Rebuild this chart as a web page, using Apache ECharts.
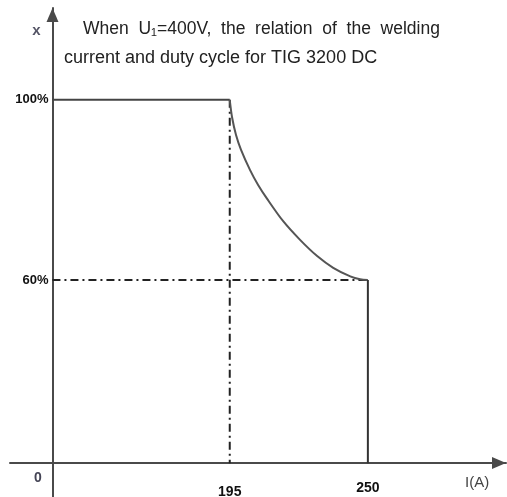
<!DOCTYPE html>
<html>
<head>
<meta charset="utf-8">
<script src="https://cdn.jsdelivr.net/npm/echarts@6/dist/echarts.min.js"></script>
<style>
  html, body { margin: 0; padding: 0; background: #fff; }
  #chart { width: 507px; height: 497px; }
</style>
</head>
<body>
<div id="chart"></div>
<script>
// Rated points: welding current (A) and duty cycle (%)
const ratedCurrent = [195, 250];
const ratedDuty = [100, 60];

// Derating curve between the two rated points
const curveCurrent = [195, 195.9, 197.5, 199.5, 203.1, 206.3, 209.9, 216.2, 223.0, 229.8, 236.2, 243.0, 246.9, 250];
const curveDuty    = [100, 96.2, 92.2, 88.9, 84.4, 81.1, 78.0, 73.1, 68.9, 65.3, 62.7, 60.8, 60.15, 60];

// Axis tick labels
const currentTicks = [195, 250];
const dutyTicks = [60, 100];

// Where the two axes cross (schematic origin)
const originCurrent = 124.4;
const originDuty = 19.3;

const xMin = 107.5, xMax = 305;
const yMin = 11.8, yMax = 120.4;

const pair = (xs, ys) => xs.map((x, i) => [x, ys[i]]);

const font = '"Liberation Sans", Arial, sans-serif';
const axisColor = '#4a4a4a';
const dashDot = [8, 4, 2, 4];

const chart = echarts.init(document.getElementById('chart'), null, { renderer: 'canvas' });

chart.setOption({
  animation: false,
  backgroundColor: '#fff',
  title: [
    {
      text: 'When  U\u2081=400V,  the  relation  of  the  welding',
      left: 83, top: 20, padding: 0,
      textStyle: { fontFamily: font, fontSize: 17.5, fontWeight: 'normal', color: '#222' }
    },
    {
      text: 'current and duty cycle for TIG 3200 DC',
      left: 64, top: 49, padding: 0,
      textStyle: { fontFamily: font, fontSize: 18, fontWeight: 'normal', color: '#222' }
    }
  ],
  grid: { left: 10, right: 1, top: 8, bottom: 0, containLabel: false, outerBoundsMode: 'none' },
  xAxis: {
    type: 'value',
    min: xMin, max: xMax,
    position: 'bottom',
    offset: -34,
    name: 'I(A)',
    nameLocation: 'end',
    nameGap: -41,
    nameTextStyle: { fontFamily: font, fontSize: 15, color: '#444', verticalAlign: 'top', padding: [12, 0, 0, 0] },
    axisLine: { show: true, onZero: false, symbol: ['none', 'triangle'], symbolSize: [12, 14], symbolOffset: [0, -7],
      lineStyle: { color: axisColor, width: 2 } },
    axisTick: { show: false },
    splitLine: { show: false },
    axisLabel: {
      customValues: currentTicks,
      margin: 18,
      formatter: v => (v === currentTicks[0] ? '{lo|' + v + '}' : '{hi|' + v + '}'),
      rich: {
        lo: { fontFamily: font, fontSize: 14, fontWeight: 'bold', color: '#111', padding: [4, 0, 0, 0] },
        hi: { fontFamily: font, fontSize: 14, fontWeight: 'bold', color: '#111' }
      }
    }
  },
  yAxis: {
    type: 'value',
    min: yMin, max: yMax,
    position: 'left',
    offset: -42.5,
    name: 'x',
    nameLocation: 'end',
    nameGap: -30,
    nameTextStyle: { fontFamily: font, fontSize: 15, fontWeight: 'bold', color: '#556', align: 'right', padding: [0, 12, 0, 0] },
    axisLine: { show: true, onZero: false, symbol: ['none', 'triangle'], symbolSize: [12, 14], symbolOffset: [0, -7],
      lineStyle: { color: axisColor, width: 2 } },
    axisTick: { show: false },
    splitLine: { show: false },
    axisLabel: {
      customValues: dutyTicks,
      margin: 4,
      formatter: '{value}%',
      fontFamily: font, fontSize: 13, fontWeight: 'bold', color: '#111'
    }
  },
  graphic: [
    {
      type: 'text',
      left: 34, top: 471,
      style: { text: '0', fontFamily: font, fontSize: 14, fontWeight: 'bold', fill: '#445' }
    }
  ],
  series: [
    // Dash-dot guide at 195 A, from 100 % down to the current axis
    {
      type: 'line', symbol: 'none', silent: true,
      data: [[ratedCurrent[0], ratedDuty[0]], [ratedCurrent[0], originDuty]],
      lineStyle: { color: '#222', width: 2, type: dashDot }
    },
    // Dash-dot guide at 60 %, from the duty axis to 250 A
    {
      type: 'line', symbol: 'none', silent: true,
      data: [[originCurrent, ratedDuty[1]], [ratedCurrent[1], ratedDuty[1]]],
      lineStyle: { color: '#222', width: 2, type: dashDot }
    },
    // 100 % plateau up to 195 A
    {
      type: 'line', symbol: 'none',
      data: [[originCurrent, ratedDuty[0]], [ratedCurrent[0], ratedDuty[0]]],
      lineStyle: { color: '#444', width: 2 }
    },
    // Derating curve 195 A -> 250 A
    {
      type: 'line', symbol: 'none', smooth: 0.3,
      data: pair(curveCurrent, curveDuty),
      lineStyle: { color: '#555', width: 2 }
    },
    // Cut-off at 250 A
    {
      type: 'line', symbol: 'none',
      data: [[ratedCurrent[1], ratedDuty[1]], [ratedCurrent[1], originDuty]],
      lineStyle: { color: '#333', width: 2 }
    }
  ]
});
</script>
</body>
</html>
